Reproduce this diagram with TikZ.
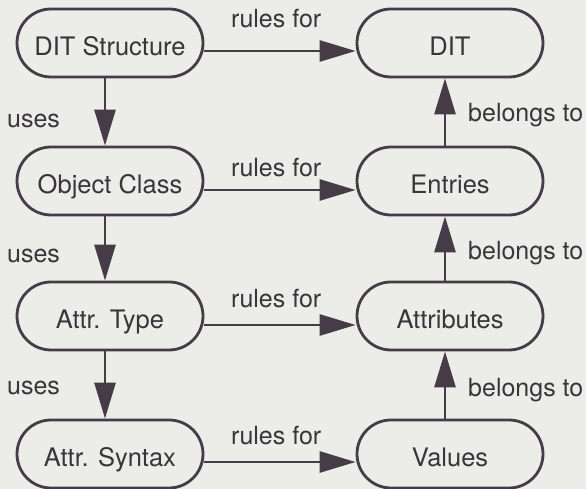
\documentclass[tikz,border=0pt]{standalone}
\usepackage{fontspec}
\setmainfont{TeX Gyre Heros}
\usetikzlibrary{shapes.misc,arrows.meta}
\definecolor{ink}{HTML}{463C48}
\definecolor{txt}{HTML}{38353B}
\definecolor{paper}{HTML}{ECECE9}

\begin{document}
\begin{tikzpicture}[x=1pt,y=1pt,
  box/.style={rounded rectangle, draw=ink, line width=2.8pt,
    minimum width=186pt, minimum height=68pt, inner sep=0pt,
    text=txt, font=\fontsize{25.5}{30}\selectfont,
    text height=26pt, text depth=0pt},
  lab/.style={anchor=base west, inner sep=0pt, text=txt,
    font=\fontsize{25}{30}\selectfont},
  link/.style={draw=ink, line width=2.8pt,
    -{Triangle[length=36pt,width=21pt]}}]

  % paper and page frame
  \fill[paper] (0,0) rectangle (586,489);
  \useasboundingbox (0,0) rectangle (586,489);

  % schema side
  \node[box] (dits) at (110,446) {DIT Structure};
  \node[box] (ocl)  at (110,308) {Object Class};
  \node[box] (atyp) at (110,173) {Attr. Type};
  \node[box] (asyn) at (110,35)  {Attr. Syntax};

  % information side
  \node[box] (dit)  at (450,446) {DIT};
  \node[box] (ent)  at (450,308) {Entries};
  \node[box] (attr) at (450,173) {Attributes};
  \node[box] (val)  at (450,35)  {Values};

  % "rules for" connectors
  \draw[link] ([yshift=-8pt]dits.east) -- ([yshift=-8pt]dit.west);
  \draw[link] ([yshift=-9pt]ocl.east)  -- ([yshift=-9pt]ent.west);
  \draw[link] ([yshift=-9pt]atyp.east) -- ([yshift=-9pt]attr.west);
  \draw[link] ([yshift=-8pt]asyn.east) -- ([yshift=-8pt]val.west);

  % "uses" connectors
  \draw[link] ([xshift=-5pt]dits.south) -- ([xshift=-5pt]ocl.north);
  \draw[link] ([xshift=-5pt]ocl.south)  -- ([xshift=-5pt]atyp.north);
  \draw[link] ([xshift=-5pt]atyp.south) -- ([xshift=-5pt]asyn.north);

  % "belongs to" connectors
  \draw[link] ([xshift=-5pt]ent.north)  -- ([xshift=-5pt]dit.south);
  \draw[link] ([xshift=-5pt]attr.north) -- ([xshift=-5pt]ent.south);
  \draw[link] ([xshift=-5pt]val.north)  -- ([xshift=-5pt]attr.south);

  % connector labels
  \node[lab] (r1) at (231,461) {rules for};
  \node[lab] (r2) at (231,312) {rules for};
  \node[lab] (r3) at (231,181) {rules for};
  \node[lab] (r4) at (231,44)  {rules for};

  \node[lab] (u1) at (7,361) {uses};
  \node[lab] (u2) at (7,226) {uses};
  \node[lab] (u3) at (7,94)  {uses};

  \node[lab] (b1) at (468,367) {belongs to};
  \node[lab] (b2) at (468,229) {belongs to};
  \node[lab] (b3) at (468,92)  {belongs to};
\end{tikzpicture}
\end{document}
